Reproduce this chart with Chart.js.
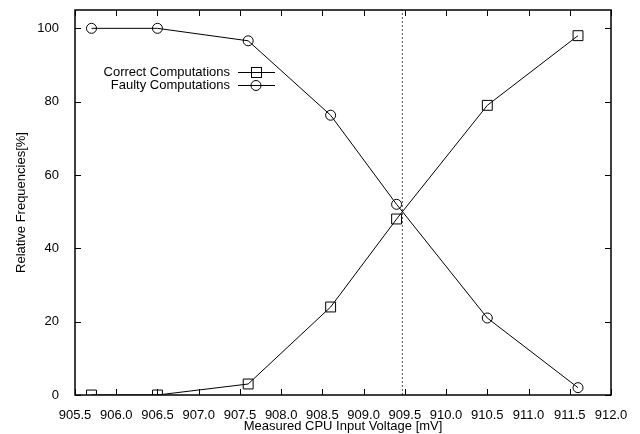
<!DOCTYPE html>
<html>
<head>
<meta charset="utf-8">
<script src="https://cdn.jsdelivr.net/npm/chart.js@4.4.0/dist/chart.umd.min.js"></script>
<style>
  html, body { margin: 0; padding: 0; background: #fff; }
  #wrap { width: 640px; height: 434px; }
</style>
</head>
<body>
<div id="wrap"><canvas id="myChart" width="640" height="434"></canvas></div>
<script>
const voltages = [905.7, 906.5, 907.6, 908.6, 909.4, 910.5, 911.6];
const correct = [0, 0, 3, 24, 48, 79, 98];
const faulty = [100, 100, 96.6, 76.3, 52, 21, 2];
const threshold = 909.47;
const seriesNames = ['Correct Computations', 'Faulty Computations'];

const FONT = 'Liberation Sans, Arial, sans-serif';
const pts = (ys) => voltages.map((v, i) => ({ x: v, y: ys[i] }));

// gnuplot-like frame: inward ticks on all four sides + box
const framePlugin = {
    id: 'frame',
    afterDraw(chart) {
        const c = chart.ctx, a = chart.chartArea;
        const xs = chart.scales.x, ys = chart.scales.y;
        c.save();
        c.strokeStyle = '#000';
        c.lineWidth = 1;
        c.beginPath();
        xs.ticks.forEach(t => {
            const px = Math.round(xs.getPixelForValue(t.value)) + 0.5;
            c.moveTo(px, a.bottom); c.lineTo(px, a.bottom - 6);
            c.moveTo(px, a.top); c.lineTo(px, a.top + 6);
        });
        ys.ticks.forEach(t => {
            const py = Math.round(ys.getPixelForValue(t.value)) + 0.5;
            c.moveTo(a.left, py); c.lineTo(a.left + 6, py);
            c.moveTo(a.right, py); c.lineTo(a.right - 6, py);
        });
        c.stroke();
        c.lineWidth = 1.5;
        c.strokeRect(a.left, a.top, a.right - a.left, a.bottom - a.top);

        // key, top-left inside plot
        c.font = '13px ' + FONT;
        c.fillStyle = '#000';
        c.textAlign = 'right';
        c.textBaseline = 'middle';
        const styles = ['rect', 'circle'];
        seriesNames.forEach((name, i) => {
            const y = 72 + i * 13;
            c.fillText(name, 230, y);
            c.lineWidth = 1;
            c.beginPath();
            c.moveTo(238, y + 0.5); c.lineTo(275, y + 0.5);
            c.stroke();
            if (styles[i] === 'rect') {
                c.strokeRect(251.5, y - 4.5, 10, 10);
            } else {
                c.beginPath();
                c.arc(256, y + 0.5, 5, 0, Math.PI * 2);
                c.stroke();
            }
        });
        c.restore();
    }
};

const ctx = document.getElementById('myChart').getContext('2d');
const myChart = new Chart(ctx, {
    type: 'line',
    data: {
        datasets: [{
            label: seriesNames[0],
            data: pts(correct),
            borderColor: '#000',
            backgroundColor: 'rgba(0,0,0,0)',
            borderWidth: 1,
            pointStyle: 'rect',
            pointRadius: 7,
            pointBorderWidth: 1,
            tension: 0
        }, {
            label: seriesNames[1],
            data: pts(faulty),
            borderColor: '#000',
            backgroundColor: 'rgba(0,0,0,0)',
            borderWidth: 1,
            pointStyle: 'circle',
            pointRadius: 5,
            pointBorderWidth: 1,
            tension: 0
        }, {
            label: 'threshold',
            data: [{ x: threshold, y: 0 }, { x: threshold, y: 105 }],
            borderColor: '#555',
            borderWidth: 1,
            borderDash: [2, 2],
            pointRadius: 0
        }]
    },
    options: {
        responsive: false,
        animation: false,
        layout: { padding: { left: 0, right: 29, top: 10, bottom: 0 } },
        plugins: { legend: { display: false }, tooltip: { enabled: false } },
        scales: {
            x: {
                type: 'linear',
                min: 905.5,
                max: 912.0,
                grid: { display: false },
                border: { display: false },
                ticks: {
                    stepSize: 0.5,
                    color: '#000',
                    padding: 5,
                    font: { family: FONT, size: 13 },
                    callback: v => v.toFixed(1)
                },
                title: {
                    display: true,
                    text: 'Measured CPU Input Voltage [mV]',
                    color: '#000',
                    font: { family: FONT, size: 13 },
                    padding: { top: 2, bottom: 0 }
                },
                afterFit: s => { s.height = 39; s.paddingLeft = 0; s.paddingRight = 0; }
            },
            y: {
                min: 0,
                max: 105,
                grid: { display: false },
                border: { display: false },
                afterBuildTicks: s => { s.ticks = [0, 20, 40, 60, 80, 100].map(v => ({ value: v })); },
                ticks: {
                    color: '#000',
                    padding: 8,
                    font: { family: FONT, size: 13 }
                },
                title: {
                    display: true,
                    text: 'Relative Frequencies[%]',
                    color: '#000',
                    font: { family: FONT, size: 13 },
                    padding: { top: 14, bottom: 0 }
                },
                afterFit: s => { s.width = 75; s.paddingTop = 0; s.paddingBottom = 0; }
            }
        }
    },
    plugins: [framePlugin]
});
</script>
</body>
</html>
